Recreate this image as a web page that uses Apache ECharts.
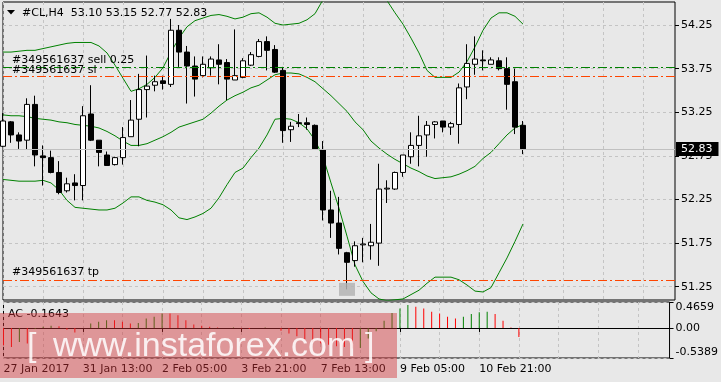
<!DOCTYPE html>
<html><head><meta charset="utf-8">
<script src="https://cdn.jsdelivr.net/npm/echarts@6/dist/echarts.min.js"></script>
<style>html,body{margin:0;padding:0;background:#e8e8e8;}#c{width:721px;height:382px;}</style>
</head><body><div id="c"></div>
<script>
// ---- data ----
const times = [
'2017.01.27 21:00','2017.01.30 01:00','2017.01.30 05:00','2017.01.30 09:00','2017.01.30 13:00','2017.01.30 17:00','2017.01.30 21:00',
'2017.01.31 01:00','2017.01.31 05:00','2017.01.31 09:00','2017.01.31 13:00','2017.01.31 17:00','2017.01.31 21:00',
'2017.02.01 01:00','2017.02.01 05:00','2017.02.01 09:00','2017.02.01 13:00','2017.02.01 17:00','2017.02.01 21:00',
'2017.02.02 01:00','2017.02.02 05:00','2017.02.02 09:00','2017.02.02 13:00','2017.02.02 17:00','2017.02.02 21:00',
'2017.02.03 01:00','2017.02.03 05:00','2017.02.03 09:00','2017.02.03 13:00','2017.02.03 17:00','2017.02.03 21:00',
'2017.02.06 01:00','2017.02.06 05:00','2017.02.06 09:00','2017.02.06 13:00','2017.02.06 17:00','2017.02.06 21:00',
'2017.02.07 01:00','2017.02.07 05:00','2017.02.07 09:00','2017.02.07 13:00','2017.02.07 17:00','2017.02.07 21:00',
'2017.02.08 01:00','2017.02.08 05:00','2017.02.08 09:00','2017.02.08 13:00','2017.02.08 17:00','2017.02.08 21:00',
'2017.02.09 01:00','2017.02.09 05:00','2017.02.09 09:00','2017.02.09 13:00','2017.02.09 17:00','2017.02.09 21:00',
'2017.02.10 01:00','2017.02.10 05:00','2017.02.10 09:00','2017.02.10 13:00','2017.02.10 17:00','2017.02.10 21:00',
'2017.02.13 01:00','2017.02.13 05:00','2017.02.13 09:00','2017.02.13 13:00','2017.02.13 17:00'];
const emptySlots = 19;
const tickLabels = ['27 Jan 2017','31 Jan 13:00','2 Feb 05:00','3 Feb 21:00','7 Feb 13:00','9 Feb 05:00','10 Feb 21:00'];
const priceTicks = [51.25,51.75,52.25,52.75,53.25,53.75,54.25];
const acTicks = [-0.5389,0,0.4659];
const acTickLabels = ['-0.5389','0.00','0.4659'];

const opens  = [52.86,53.14,52.99,52.93,53.34,52.75,52.73,52.56,52.35,52.44,52.41,53.23,52.93,52.76,52.65,52.73,52.97,53.17,53.51,53.56,53.61,53.57,54.19,53.94,53.78,53.67,53.76,53.85,53.82,53.62,53.65,53.79,53.89,54.06,53.97,53.73,53.05,53.13,53.13,53.10,52.82,52.13,51.98,51.64,51.55,51.73,51.72,51.75,52.37,52.37,52.56,52.74,52.87,52.99,53.11,53.15,53.08,53.11,53.54,53.80,53.85,53.80,53.84,53.75,53.60,53.10];
const highs  = [53.24,53.15,53.02,53.41,53.44,52.87,52.81,52.69,52.50,52.54,53.32,53.56,52.93,52.80,52.74,53.08,53.39,53.69,53.90,53.67,53.67,54.32,54.25,54.01,53.89,53.89,53.89,54.03,53.86,54.20,53.87,53.94,54.09,54.12,54.02,53.77,53.14,53.23,53.19,53.11,52.92,52.35,52.28,51.65,51.77,51.81,51.97,52.66,52.47,52.57,52.76,53.02,53.21,53.15,53.15,53.15,53.14,53.58,54.03,54.12,53.96,53.88,53.88,53.88,53.75,53.15];
const lows   = [52.85,52.90,52.83,52.82,52.63,52.41,52.55,52.31,52.33,52.24,52.24,52.92,52.63,52.64,52.64,52.65,52.97,52.86,53.19,53.49,53.51,53.54,53.77,53.35,53.43,53.65,53.67,53.57,53.39,53.62,53.64,53.78,53.88,53.73,53.70,52.90,52.91,53.08,53.05,52.82,52.01,51.81,51.62,51.22,51.48,51.53,51.56,51.49,52.21,52.36,52.51,52.66,52.63,52.74,52.95,53.02,52.99,52.89,53.40,53.68,53.73,53.80,53.73,53.28,53.00,52.77];
const closes = [53.15,52.99,52.92,53.34,52.76,52.73,52.56,52.33,52.43,52.41,53.21,52.93,52.79,52.64,52.73,52.96,53.16,53.51,53.55,53.60,53.58,54.19,53.94,53.78,53.63,53.80,53.86,53.80,53.63,53.67,53.84,53.91,54.06,53.96,53.71,53.04,53.09,53.12,53.11,52.83,52.13,51.98,51.69,51.53,51.72,51.74,51.76,52.37,52.38,52.56,52.76,52.87,52.98,53.10,53.14,53.08,53.12,53.53,53.81,53.86,53.84,53.85,53.75,53.57,53.08,52.83];

const bbUpper  = [53.94,53.94,53.95,53.96,53.96,53.98,54.00,54.02,54.04,54.05,54.05,54.05,54.01,53.93,53.79,53.64,53.49,53.52,53.57,53.65,53.76,53.94,54.10,54.23,54.30,54.33,54.36,54.37,54.35,54.32,54.34,54.38,54.39,54.34,54.27,54.25,54.26,54.27,54.31,54.38,54.54,54.67,54.77,54.84,54.86,54.84,54.77,54.65,54.53,54.39,54.26,54.10,53.93,53.73,53.65,53.65,53.65,53.71,53.83,54.00,54.19,54.33,54.39,54.39,54.35,54.26];
const bbMiddle = [53.22,53.21,53.21,53.20,53.18,53.17,53.16,53.14,53.13,53.11,53.10,53.09,53.07,53.03,52.98,52.92,52.87,52.87,52.89,52.93,52.97,53.02,53.08,53.11,53.14,53.17,53.24,53.32,53.39,53.44,53.48,53.53,53.56,53.62,53.68,53.70,53.70,53.69,53.65,53.60,53.52,53.44,53.35,53.26,53.14,53.05,52.92,52.84,52.77,52.71,52.66,52.61,52.57,52.52,52.49,52.50,52.51,52.54,52.58,52.63,52.72,52.79,52.89,52.99,53.07,53.11];
const bbLower  = [52.48,52.47,52.46,52.46,52.46,52.47,52.44,52.36,52.24,52.16,52.15,52.14,52.13,52.13,52.15,52.21,52.28,52.28,52.24,52.22,52.19,52.13,52.04,52.02,52.05,52.09,52.15,52.27,52.42,52.56,52.61,52.73,52.84,52.99,53.17,53.18,53.17,53.13,53.06,52.93,52.74,52.44,52.15,51.83,51.50,51.31,51.18,51.11,51.09,51.10,51.11,51.16,51.21,51.29,51.36,51.36,51.36,51.33,51.27,51.20,51.19,51.24,51.41,51.58,51.77,51.97];

const acValues = [-0.31,-0.34,-0.25,-0.28,-0.02,0.02,0.04,0.03,-0.03,-0.08,0.00,0.08,0.11,0.14,0.14,0.11,0.08,0.09,0.17,0.20,0.26,0.26,0.23,0.14,0.06,0.04,0.02,0.01,0.00,0.01,-0.01,-0.02,0.00,0.01,0.00,-0.05,-0.10,-0.15,-0.20,-0.25,-0.28,-0.30,-0.33,-0.34,-0.37,-0.36,-0.19,-0.06,0.13,0.27,0.35,0.41,0.38,0.35,0.29,0.26,0.20,0.17,0.20,0.25,0.28,0.29,0.25,0.13,0.01,-0.1643];

const orderId = '#349561637';
const sellPrice = 53.77, slPrice = 53.66, tpPrice = 51.33;
const lastPrice = 52.83;
const headerText = '#CL,H4  53.10 53.15 52.77 52.83';
const acText = 'AC -0.1643';
const gapBar = 43;

// ---- build ----
const cats = times.concat(Array.from({length: emptySlots}, (_, k) => 'next' + (k + 1)));
const candles = opens.map((o, i) => [o, closes[i], lows[i], highs[i]]);
const F = 'DejaVu Sans';
const grid = {color: '#c4c4c4', type: [3, 3], width: 1};
const GREEN = '#008000', RED = '#ff0000', OR = '#ff4500';
const dashDot = [9, 3, 2, 3];

const chart = echarts.init(document.getElementById('c'), null, {renderer: 'canvas'});
const xCommon = {
  type: 'category', data: cats, boundaryGap: false,
  splitLine: {show: true, interval: 4, lineStyle: grid}
};
chart.setOption({
  animation: false,
  backgroundColor: '#e8e8e8',
  grid: [
    {left: 3, top: 2, width: 672, height: 298, show: true, borderColor: '#000', borderWidth: 1, backgroundColor: 'transparent'},
    {left: 3.5, top: 302, width: 672, height: 56, show: true, borderColor: '#000', borderWidth: 1, backgroundColor: 'transparent'}
  ],
  xAxis: [
    Object.assign({gridIndex: 0, axisLine: {show: false}, axisTick: {show: false}, axisLabel: {show: false}}, xCommon),
    Object.assign({gridIndex: 1,
      axisLine: {show: true, lineStyle: {color: '#000'}},
      axisTick: {show: true, length: 4, lineStyle: {color: '#000'}, interval: (i) => i % 10 === 0 && i > 0 && i <= 60},
      axisLabel: {show: true, interval: (i) => i % 10 === 0 && i <= 60, align: 'left', margin: 6,
        fontFamily: F, fontSize: 11, color: '#000',
        formatter: (v, i) => (i % 10 === 0 && tickLabels[i / 10]) ? tickLabels[i / 10] : ''}
    }, xCommon)
  ],
  yAxis: [
    {type: 'value', gridIndex: 0, position: 'right', min: 51.098, max: 54.514, scale: true,
      axisLine: {show: false},
      axisTick: {show: true, length: 4, lineStyle: {color: '#000'}, customValues: priceTicks},
      axisLabel: {show: true, customValues: priceTicks, margin: 6, fontFamily: F, fontSize: 11, color: '#000', formatter: v => v.toFixed(2)},
      splitLine: {show: true, lineStyle: grid}},
    {type: 'value', gridIndex: 1, position: 'right', min: -0.5389, max: 0.4659,
      axisLine: {show: false},
      axisTick: {show: true, length: 4, lineStyle: {color: '#000'}, customValues: acTicks},
      axisLabel: {show: true, customValues: acTicks, margin: 6, fontFamily: F, fontSize: 11, color: '#000',
        verticalAlignMaxLabel: 'top', verticalAlignMinLabel: 'bottom',
        formatter: v => acTickLabels[acTicks.indexOf(v)] ?? String(v)},
      splitLine: {show: true, lineStyle: grid}}
  ],
  series: [
    {type: 'line', name: 'upper', xAxisIndex: 0, yAxisIndex: 0, data: bbUpper, symbol: 'none', clip: true, lineStyle: {color: GREEN, width: 1}, z: 2},
    {type: 'line', name: 'middle', xAxisIndex: 0, yAxisIndex: 0, data: bbMiddle, symbol: 'none', clip: true, lineStyle: {color: GREEN, width: 1}, z: 2},
    {type: 'line', name: 'lower', xAxisIndex: 0, yAxisIndex: 0, data: bbLower, symbol: 'none', clip: true, lineStyle: {color: GREEN, width: 1}, z: 2},
    {type: 'candlestick', name: 'CL', xAxisIndex: 0, yAxisIndex: 0, data: candles, barWidth: 5, z: 3,
      itemStyle: {color: '#ffffff', color0: '#000000', borderColor: '#000000', borderColor0: '#000000', borderWidth: 1},
      markPoint: {symbol: 'rect', symbolSize: [16, 13], silent: true, itemStyle: {color: 'rgba(180,180,180,0.85)'}, label: {show: false},
        data: [{coord: [cats[gapBar], lows[gapBar]]}]},
      markLine: {symbol: ['none', 'none'], silent: true, animation: false,
        data: [
          {yAxis: sellPrice, lineStyle: {color: GREEN, width: 1, type: dashDot},
            label: {show: true, position: 'insideStartTop', distance: [9, 1], formatter: orderId + ' sell 0.25', fontFamily: F, fontSize: 11, color: '#000'}},
          {yAxis: slPrice, lineStyle: {color: OR, width: 1, type: dashDot},
            label: {show: true, position: 'insideStartTop', distance: [9, 1], formatter: orderId + ' sl', fontFamily: F, fontSize: 11, color: '#000'}},
          {yAxis: tpPrice, lineStyle: {color: OR, width: 1, type: dashDot},
            label: {show: true, position: 'insideStartTop', distance: [9, 2], formatter: orderId + ' tp', fontFamily: F, fontSize: 11, color: '#000'}},
          {yAxis: lastPrice, lineStyle: {color: '#c0c0c0', width: 1, type: 'solid'},
            label: {show: true, position: 'end', distance: 1, formatter: lastPrice.toFixed(2), fontFamily: F, fontSize: 11, color: '#fff', backgroundColor: '#000', padding: [2, 6, 1, 5]}}
        ]}},
    {type: 'bar', name: 'AC', xAxisIndex: 1, yAxisIndex: 1, data: acValues, barWidth: 1, z: 2,
      itemStyle: {color: p => (p.dataIndex > 0 && acValues[p.dataIndex] > acValues[p.dataIndex - 1]) ? GREEN : RED}}
  ],
  graphic: [
    {type: 'polygon', z: 100, shape: {points: [[7, 10], [15, 10], [11, 14.5]]}, style: {fill: '#000'}},
    {type: 'text', z: 100, x: 22, y: 13, style: {text: headerText, font: '11px "DejaVu Sans"', fill: '#000', verticalAlign: 'middle'}},
    {type: 'text', z: 100, x: 8, y: 314, style: {text: acText, font: '11px "DejaVu Sans"', fill: '#000', verticalAlign: 'middle'}},
    {type: 'rect', z: 101, shape: {x: 0, y: 313, width: 397, height: 65}, style: {fill: 'rgba(210,50,55,0.45)'}},
    {type: 'text', z: 102, x: 27, y: 347, style: {text: '[', font: '34px "Liberation Sans"', fill: 'rgba(255,255,255,0.85)', verticalAlign: 'middle'}},
    {type: 'text', z: 102, x: 53, y: 347, style: {text: 'www.instaforex.com', font: '34px "Liberation Sans"', fill: 'rgba(255,255,255,0.85)', verticalAlign: 'middle'}},
    {type: 'text', z: 102, x: 365, y: 347, style: {text: ']', font: '34px "Liberation Sans"', fill: 'rgba(255,255,255,0.85)', verticalAlign: 'middle'}}
  ]
});
</script>
</body></html>
